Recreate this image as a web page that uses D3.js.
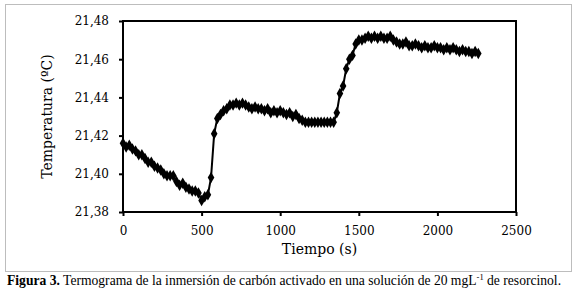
<!DOCTYPE html>
<html>
<head>
<meta charset="utf-8">
<script src="https://cdn.jsdelivr.net/npm/d3@7"></script>
<style>
  body { margin: 0; background: #fff; }
  svg { display: block; }
  .tick text { font-family: "DejaVu Serif", serif; font-size: 12px; fill: #000; }
  .axis-label { font-family: "DejaVu Serif", serif; font-size: 14px; fill: #000; }
  .caption { font-family: "Liberation Serif", serif; font-size: 13.6px; fill: #000; }
</style>
</head>
<body>
<div id="graphic"></div>
<script>
// Time (s)
var times = [0, 20, 40, 60, 80, 100, 120, 140, 160, 180, 200, 220, 240, 260, 280, 300,
  320, 340, 360, 380, 400, 420, 440, 460, 480, 500, 520, 540, 560, 580, 600, 620, 640,
  660, 680, 700, 720, 740, 760, 780, 800, 820, 840, 860, 880, 900, 920, 940, 960, 980,
  1000, 1020, 1040, 1060, 1080, 1100, 1120, 1140, 1160, 1180, 1200, 1220, 1240, 1260,
  1280, 1300, 1320, 1340, 1360, 1380, 1400, 1420, 1440, 1460, 1480, 1500, 1520, 1540,
  1560, 1580, 1600, 1620, 1640, 1660, 1680, 1700, 1720, 1740, 1760, 1780, 1800, 1820,
  1840, 1860, 1880, 1900, 1920, 1940, 1960, 1980, 2000, 2020, 2040, 2060, 2080, 2100,
  2120, 2140, 2160, 2180, 2200, 2220, 2240, 2260];

// Temperature (ºC)
var temps = [21.416, 21.414, 21.415, 21.413, 21.412, 21.410, 21.410, 21.408, 21.406,
  21.406, 21.404, 21.403, 21.402, 21.400, 21.399, 21.399, 21.399, 21.396, 21.394,
  21.395, 21.393, 21.392, 21.391, 21.391, 21.390, 21.386, 21.388, 21.389, 21.398,
  21.421, 21.429, 21.431, 21.433, 21.434, 21.436, 21.436, 21.437, 21.436, 21.437,
  21.436, 21.435, 21.434, 21.435, 21.434, 21.434, 21.433, 21.434, 21.432, 21.433,
  21.432, 21.433, 21.432, 21.431, 21.432, 21.430, 21.431, 21.429, 21.428, 21.427,
  21.427, 21.427, 21.427, 21.427, 21.427, 21.427, 21.427, 21.427, 21.427, 21.432,
  21.442, 21.446, 21.455, 21.460, 21.462, 21.468, 21.470, 21.470, 21.471, 21.472,
  21.471, 21.472, 21.471, 21.472, 21.471, 21.471, 21.472, 21.470, 21.469, 21.468,
  21.468, 21.469, 21.467, 21.467, 21.468, 21.467, 21.466, 21.467, 21.466, 21.466,
  21.467, 21.466, 21.466, 21.465, 21.466, 21.465, 21.466, 21.465, 21.464, 21.465,
  21.464, 21.464, 21.463, 21.464, 21.463];

var xTicks = [0, 500, 1000, 1500, 2000, 2500];
var yTicks = [21.38, 21.40, 21.42, 21.44, 21.46, 21.48];

var W = 576, H = 293;
var margin = { top: 21, right: 60, bottom: 81, left: 123 };
var width = W - margin.left - margin.right;
var height = H - margin.top - margin.bottom;

var data = times.map(function (t, i) { return { t: t, v: temps[i] }; });

var svg = d3.select("#graphic").append("svg")
  .attr("width", W).attr("height", H);

// outer frame
svg.append("rect")
  .attr("x", 5.5).attr("y", 4.5).attr("width", 566).attr("height", 267)
  .attr("fill", "none").attr("stroke", "#bdbdbd").attr("stroke-width", 1);

var g = svg.append("g")
  .attr("transform", "translate(" + margin.left + "," + margin.top + ")");

var x = d3.scaleLinear().domain([0, 2500]).range([0, width]);
var y = d3.scaleLinear().domain([21.38, 21.48]).range([height, 0]);

// plot box
g.append("rect")
  .attr("x", 0).attr("y", 0).attr("width", width).attr("height", height)
  .attr("fill", "none").attr("stroke", "#000").attr("stroke-width", 2);

var xAxis = d3.axisBottom(x).tickValues(xTicks).tickSize(4).tickPadding(10)
  .tickFormat(d3.format("d"));
var yAxis = d3.axisLeft(y).tickValues(yTicks).tickSize(4).tickPadding(10)
  .tickFormat(function (d) { return d3.format(".2f")(d).replace(".", ","); });

var gx = g.append("g").attr("transform", "translate(0," + height + ")").call(xAxis);
var gy = g.append("g").call(yAxis);
[gx, gy].forEach(function (a) {
  a.select(".domain").remove();
  a.selectAll(".tick line").attr("stroke", "#000").attr("stroke-width", 2);
});

// line + diamond markers
var line = d3.line().x(function (d) { return x(d.t); }).y(function (d) { return y(d.v); });
g.append("path").datum(data)
  .attr("fill", "none").attr("stroke", "#000").attr("stroke-width", 2)
  .attr("d", line);

var diamond = d3.symbol().type(d3.symbolDiamond).size(38);
g.selectAll(".pt").data(data).enter().append("path")
  .attr("class", "pt")
  .attr("transform", function (d) { return "translate(" + x(d.t) + "," + y(d.v) + ")"; })
  .attr("d", diamond)
  .attr("fill", "#000");

// axis labels
g.append("text").attr("class", "axis-label")
  .attr("text-anchor", "middle")
  .attr("x", x(1250)).attr("y", height + 42)
  .text("Tiempo (s)");

g.append("text").attr("class", "axis-label")
  .attr("text-anchor", "middle")
  .attr("transform", "translate(" + -71 + "," + height / 2 + ") rotate(-90)")
  .text("Temperatura (ºC)");

// caption
var cap = svg.append("text").attr("class", "caption").attr("x", 7).attr("y", 285);
cap.append("tspan").attr("font-weight", "bold").text("Figura 3.");
cap.append("tspan").text(" Termograma de la inmersión de carbón activado en una solución de 20 mgL");
cap.append("tspan").attr("font-size", "8.5px").attr("dy", -5).text("-1");
cap.append("tspan").attr("dy", 5).text(" de resorcinol.");
</script>
</body>
</html>
